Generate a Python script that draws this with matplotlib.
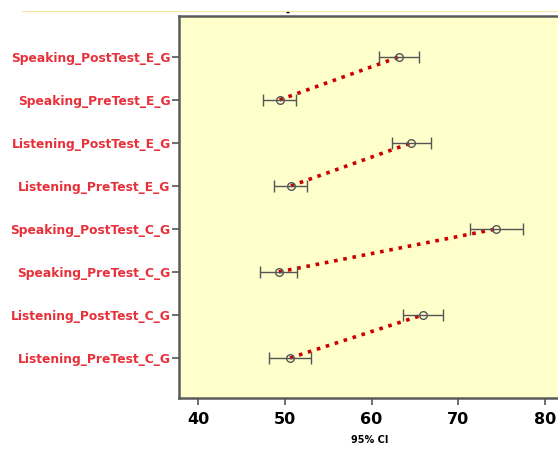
import matplotlib.pyplot as plt
import numpy as np

# variables listed bottom to top
labels = ["Listening_PreTest_C_G", "Listening_PostTest_C_G",
          "Speaking_PreTest_C_G", "Speaking_PostTest_C_G",
          "Listening_PreTest_E_G", "Listening_PostTest_E_G",
          "Speaking_PreTest_E_G", "Speaking_PostTest_E_G"]
means = [50.6, 65.9, 49.3, 74.4, 50.7, 64.6, 49.4, 63.2]
ci_low = [48.2, 63.6, 47.1, 71.3, 48.7, 62.3, 47.5, 60.9]
ci_high = [53.0, 68.2, 51.4, 77.5, 52.6, 66.8, 51.3, 65.5]

fig = plt.figure(figsize=(5.58, 4.5), dpi=100)
ax = fig.add_axes([0.3208, 0.1156, 0.684, 0.849])
ax.set_facecolor("#FFFFCC")

y = np.arange(len(labels))
means = np.array(means)
lo = means - np.array(ci_low)
hi = np.array(ci_high) - means

# pre -> post connector lines
for i in range(0, len(labels), 2):
    ax.plot(means[i:i + 2], y[i:i + 2], color="#CC0000", linestyle=(0, (1, 1.6)),
            linewidth=2.6, zorder=2)

ax.errorbar(means, y, xerr=[lo, hi], fmt="none", ecolor="#555555",
            elinewidth=1.0, capsize=4, capthick=1.0, zorder=3)
ax.plot(means, y, "o", mfc="none", mec="#555555", ms=5.5, mew=1.0, zorder=4)

ax.set_xlim(37.8, 81.8)
ax.set_ylim(-0.93, 7.95)
ax.set_xticks([40, 50, 60, 70, 80])
ax.set_yticks(y)
ax.set_yticklabels(labels, color="#E8303A", fontweight="bold", fontsize=8.8)
for t in ax.get_xticklabels():
    t.set_fontweight("bold")
    t.set_fontsize(11.5)
ax.tick_params(axis="both", direction="out", length=5, width=1.2, color="#555555")
ax.tick_params(axis="y", pad=1)
ax.tick_params(axis="x", pad=5)
for s in ax.spines.values():
    s.set_color("#5A5A5A")
    s.set_linewidth(1.8)

ax.set_xlabel("95% CI", fontsize=7, fontweight="bold", labelpad=6)

# thin line above the plot
fig.add_artist(plt.Line2D([0.04, 1.0], [0.975, 0.975], color="#FCE4A8", linewidth=0.8))
fig.text(0.515, 0.972, "-", fontsize=7, fontweight="bold", ha="center", va="center")

fig.savefig("out.png", dpi=100)
